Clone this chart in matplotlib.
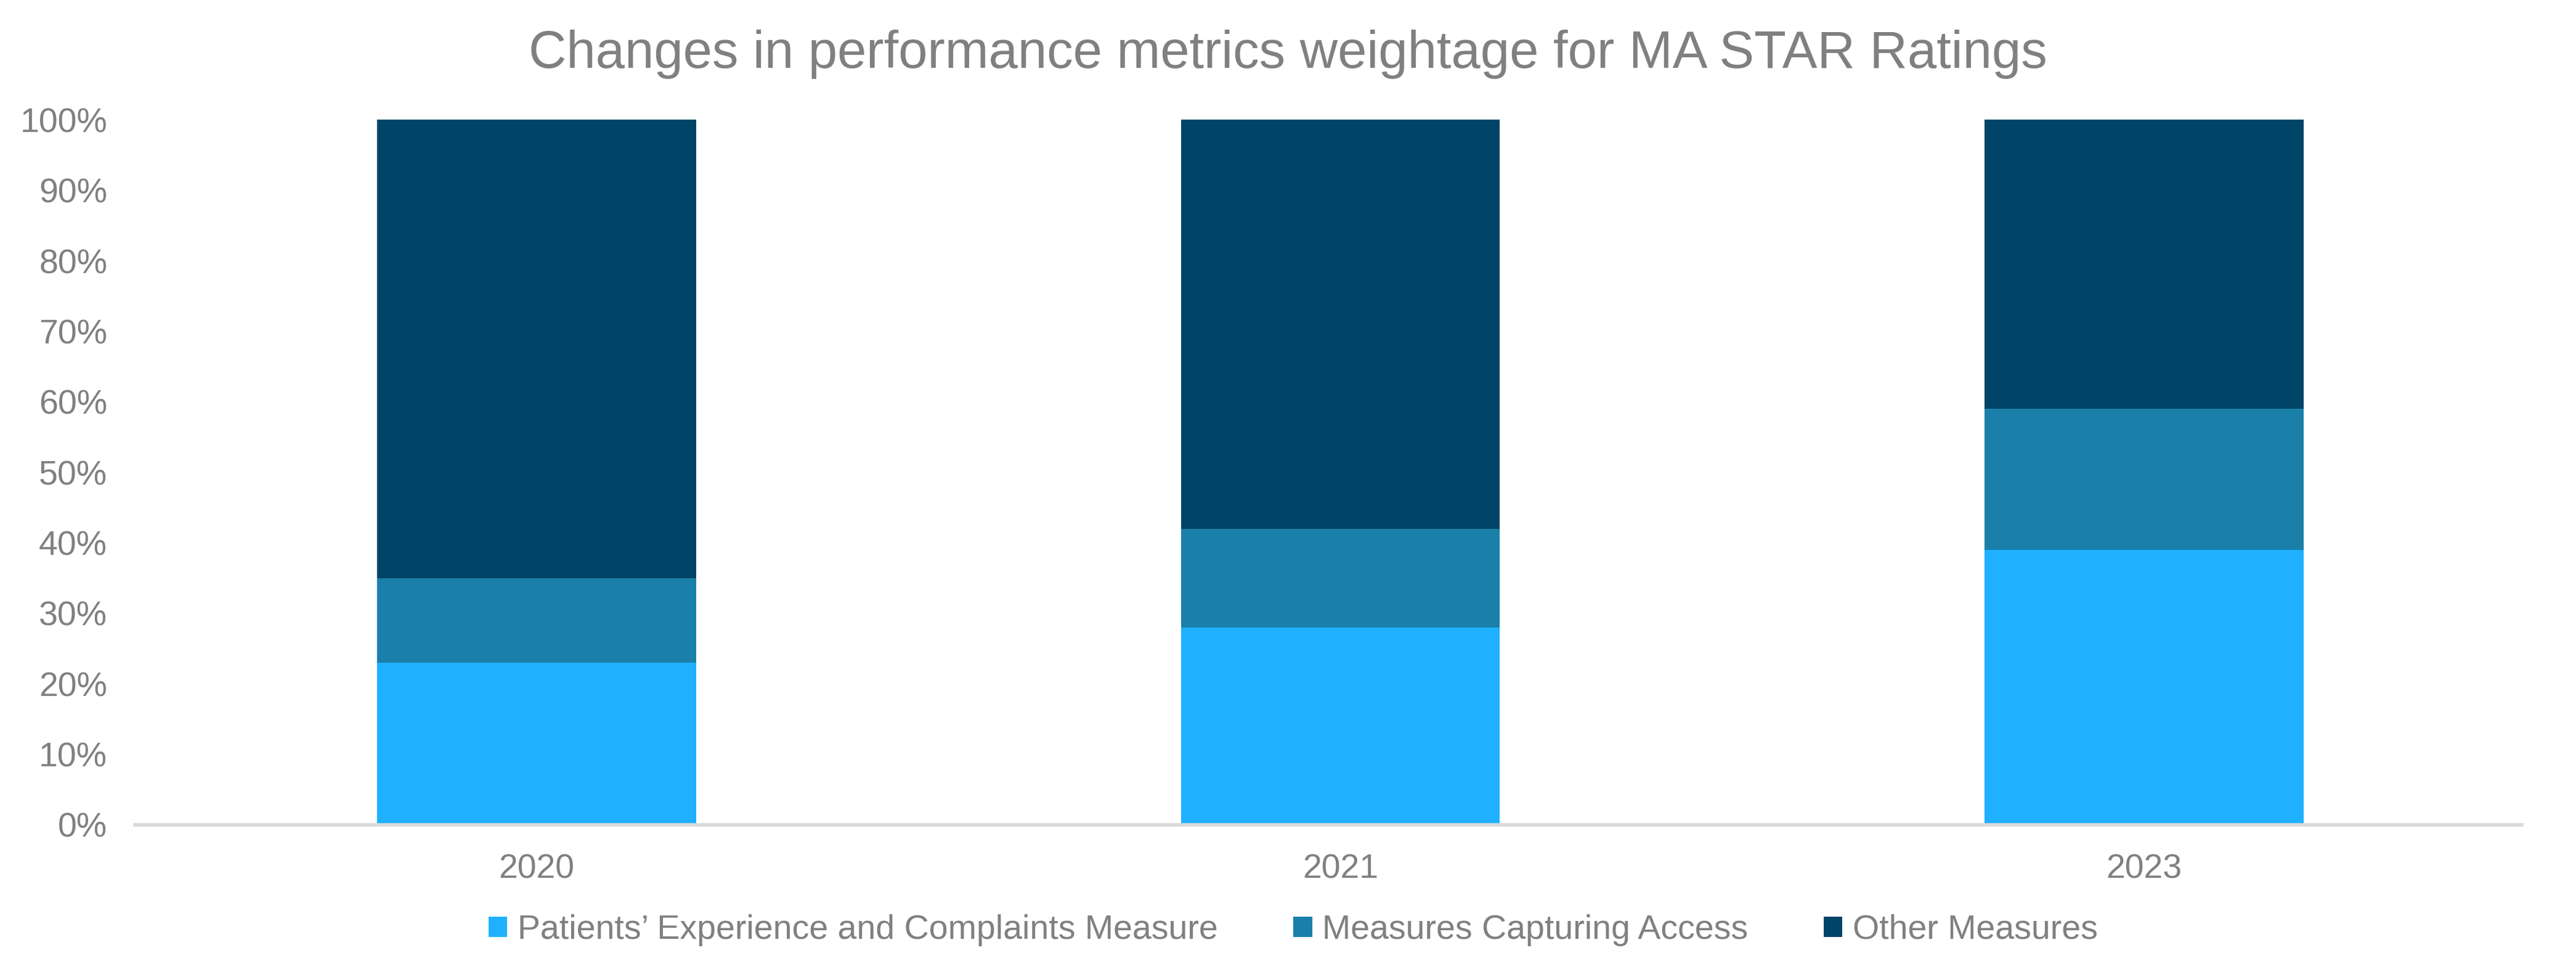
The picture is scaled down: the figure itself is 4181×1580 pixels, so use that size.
import matplotlib
matplotlib.use("Agg")
from matplotlib import pyplot as plt
from matplotlib.ticker import PercentFormatter

years = ["2020", "2021", "2023"]
patients = [23, 28, 39]
access = [12, 14, 20]
other = [65, 58, 41]

series_names = ["Patients\u2019 Experience and Complaints Measure",
                "Measures Capturing Access", "Other Measures"]
colors = ["#1FB0FF", "#1A80AA", "#004467"]
grey = "#808080"

plt.rcParams['font.family'] = ['Liberation Sans', 'DejaVu Sans']

fig = plt.figure(figsize=(10.4525, 3.95), dpi=400)
ax = fig.add_axes([0.0523, 0.1534, 0.9267, 0.7235])

x = range(len(years))
bottom = [0] * len(years)
for vals, name, c in zip([patients, access, other], series_names, colors):
    ax.bar(x, vals, width=0.397, bottom=bottom, color=c, label=name)
    bottom = [b + v for b, v in zip(bottom, vals)]

ax.set_xlim(-0.5, 2.47)
ax.set_ylim(0, 100)
ax.set_yticks(range(0, 101, 10))
ax.yaxis.set_major_formatter(PercentFormatter(decimals=0))
ax.set_xticks(list(x))
ax.set_xticklabels(years)
ax.tick_params(length=0, labelsize=10, colors=grey)
ax.tick_params(axis='x', pad=8.5)
ax.tick_params(axis='y', pad=8)
for s in ["top", "right", "left"]:
    ax.spines[s].set_visible(False)
ax.spines["bottom"].set_color("#D9D9D9")
ax.spines["bottom"].set_linewidth(1.0)

fig.text(0.5, 0.944, "Changes in performance metrics weightage for MA STAR Ratings",
         ha="center", va="center", fontsize=15.3, color=grey)

fig.legend(loc="center", bbox_to_anchor=(0.502, 0.045), ncol=3, frameon=False,
           fontsize=10, labelcolor=grey, handlelength=0.55, handleheight=0.55,
           handletextpad=0.3, columnspacing=2.2)

fig.savefig("out.png", dpi=400)
